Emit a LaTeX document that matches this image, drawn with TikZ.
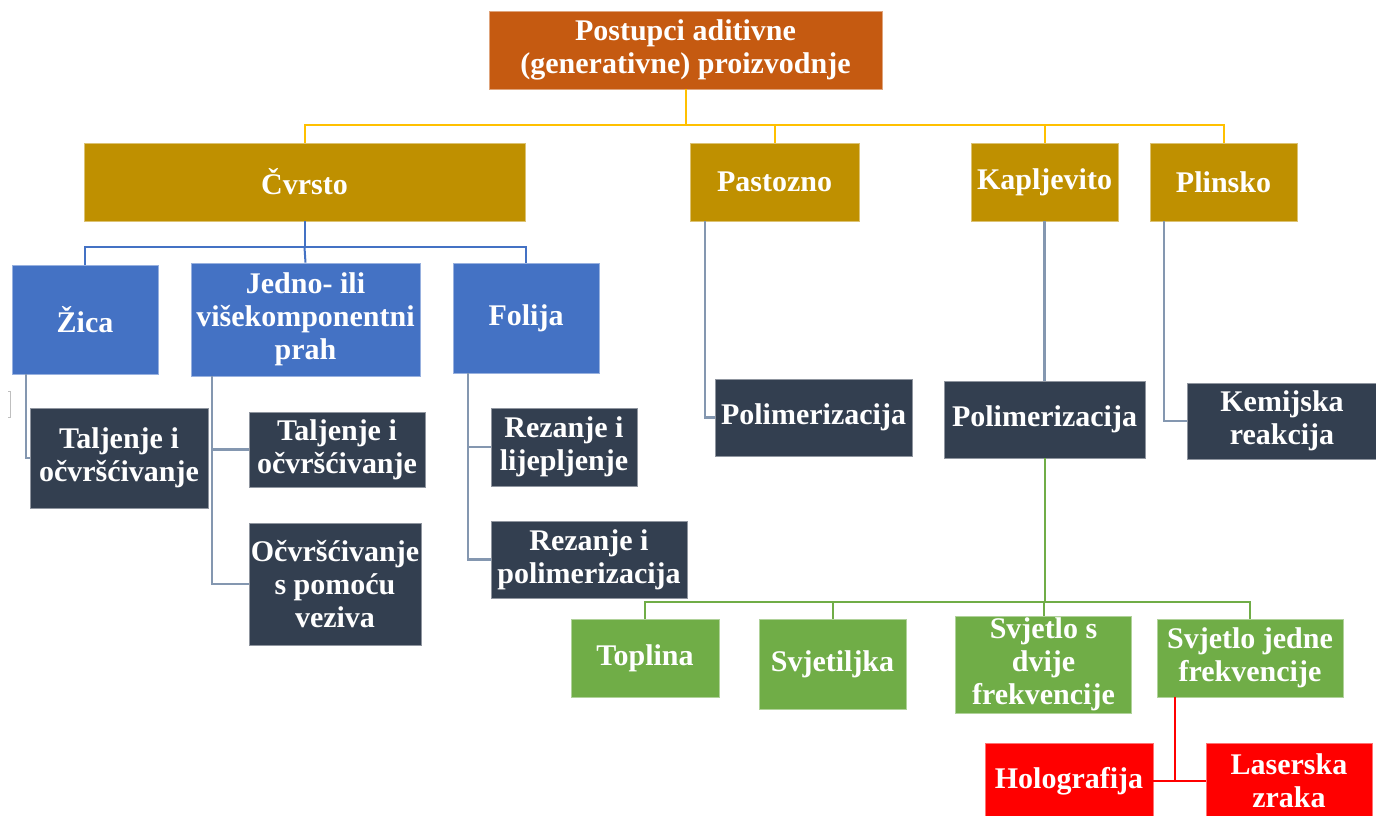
\documentclass[tikz,border=0pt]{standalone}
\usepackage{fontspec}
\setmainfont{Liberation Serif}
\definecolor{corange}{HTML}{C55A11}
\definecolor{cgold}{HTML}{BF9000}
\definecolor{cblue}{HTML}{4472C4}
\definecolor{cdark}{HTML}{333F50}
\definecolor{cgreen}{HTML}{70AD47}
\definecolor{cred}{HTML}{FF0000}
\definecolor{lyellow}{HTML}{FFC000}
\definecolor{lgray}{HTML}{8497B0}
\begin{document}
\begin{tikzpicture}[x=1pt,y=-1pt,
  box/.style={rectangle, inner sep=0pt, align=center, text=white,
    fill=#1, draw=#1!55!white, line width=0.7pt,
    font=\bfseries\fontsize{30}{33}\selectfont},
  wh/.style 2 args={minimum width=#1pt, minimum height=#2pt},
  yl/.style={draw=lyellow, line width=2pt},
  bl/.style={draw=cblue, line width=2pt},
  gr/.style={draw=lgray, line width=2.2pt},
  gn/.style={draw=cgreen, line width=2pt},
  rd/.style={draw=cred, line width=2pt}]
\useasboundingbox[fill=white] (0,0) rectangle (1376,816);

% nodes
\node[box=corange, wh={393}{78}] (root) at (685.5,50) {Postupci aditivne\\(generativne) proizvodnje};

\node[box=cgold, wh={441}{78}] (cv) at (304.5,182) {Čvrsto};
\node[box=cgold, wh={169}{78}] (pas) at (774.5,182) {Pastozno};
\node[box=cgold, wh={147}{78}] (kap) at (1044.5,182) {Kapljevito};
\node[box=cgold, wh={147}{78}] (pli) at (1223.5,182) {Plinsko};

\node[box=cblue, wh={146}{109}] (zica) at (85,319.5) {Žica};
\node[box=cblue, wh={229}{113}] (jed) at (305.5,319.5) {Jedno- ili\\višekomponentni\\prah};
\node[box=cblue, wh={146}{110}] (fol) at (526,318) {Folija};

\node[box=cdark, wh={178}{100}] (tz) at (119,458) {Taljenje i\\očvršćivanje};
\node[box=cdark, wh={176}{75}] (tj) at (337,449.5) {Taljenje i\\očvršćivanje};
\node[box=cdark, wh={172}{122}] (oc) at (335,584) {Očvršćivanje\\s pomoću\\veziva};
\node[box=cdark, wh={146}{78}] (rl) at (564,447) {Rezanje i\\lijepljenje};
\node[box=cdark, wh={196}{77}] (rp) at (589,559.5) {Rezanje i\\polimerizacija};
\node[box=cdark, wh={197}{77}] (pp) at (813.5,417.5) {Polimerizacija};
\node[box=cdark, wh={201}{77}] (pk) at (1044.5,419.5) {Polimerizacija};
\node[box=cdark, wh={190}{76}] (kem) at (1282,421) {Kemijska\\reakcija};

\node[box=cgreen, wh={148}{78}] (top) at (645,658) {Toplina};
\node[box=cgreen, wh={147}{90}] (svj) at (832.5,664) {Svjetiljka};
\node[box=cgreen, wh={176}{97}] (dv) at (1043.5,664.5) {Svjetlo s\\dvije\\frekvencije};
\node[box=cgreen, wh={186}{78}] (jf) at (1250,658) {Svjetlo jedne\\frekvencije};

\node[box=cred, wh={168}{75}] (holo) at (1069,781) {Holografija};
\node[box=cred, wh={166}{75}] (las) at (1289,781) {Laserska\\zraka};

% yellow connectors
\draw[yl] (root.south) -- ++(0,36) coordinate (yb);
\draw[yl] (yb) -| (cv.north);
\draw[yl] (yb) -| (pas.north);
\draw[yl] (yb) -| (kap.north);
\draw[yl] (yb) -| (pli.north);

% blue connectors
\draw[bl] (cv.south) -- ++(0,26) coordinate (bb);
\draw[bl] (bb) -| (zica.north);
\draw[bl] (bb) -- (jed.north);
\draw[bl] (bb) -| (fol.north);

% gray connectors
\draw[gr] ([xshift=-59pt]zica.south) |- (tz.west);
\draw[gr] ([xshift=-93.5pt]jed.south) |- (tj.west);
\draw[gr] ([xshift=-93.5pt]jed.south) |- (oc.west);
\draw[gr] ([xshift=-58pt]fol.south) |- (rl.west);
\draw[gr] ([xshift=-58pt]fol.south) |- (rp.west);
\draw[gr] ([xshift=-69.5pt]pas.south) |- (pp.west);
\draw[gr] (kap.south) -- (pk.north);
\draw[gr] ([xshift=-59.5pt]pli.south) |- (kem.west);

% green connectors
\draw[gn] (pk.south) -- ++(0,144) coordinate (gb);
\draw[gn] (gb) -| (top.north);
\draw[gn] (gb) -| (svj.north);
\draw[gn] (gb) -| (dv.north);
\draw[gn] (gb) -| (jf.north);

% red connectors
\draw[rd] ([xshift=-75pt]jf.south) |- (holo.east);
\draw[rd] (holo.east) -- (las.west);

% small artifact at the left
\draw[black!25, line width=0.6pt] (8,391) -- (10,391) -- (10,417) -- (8,417);
\end{tikzpicture}
\end{document}
